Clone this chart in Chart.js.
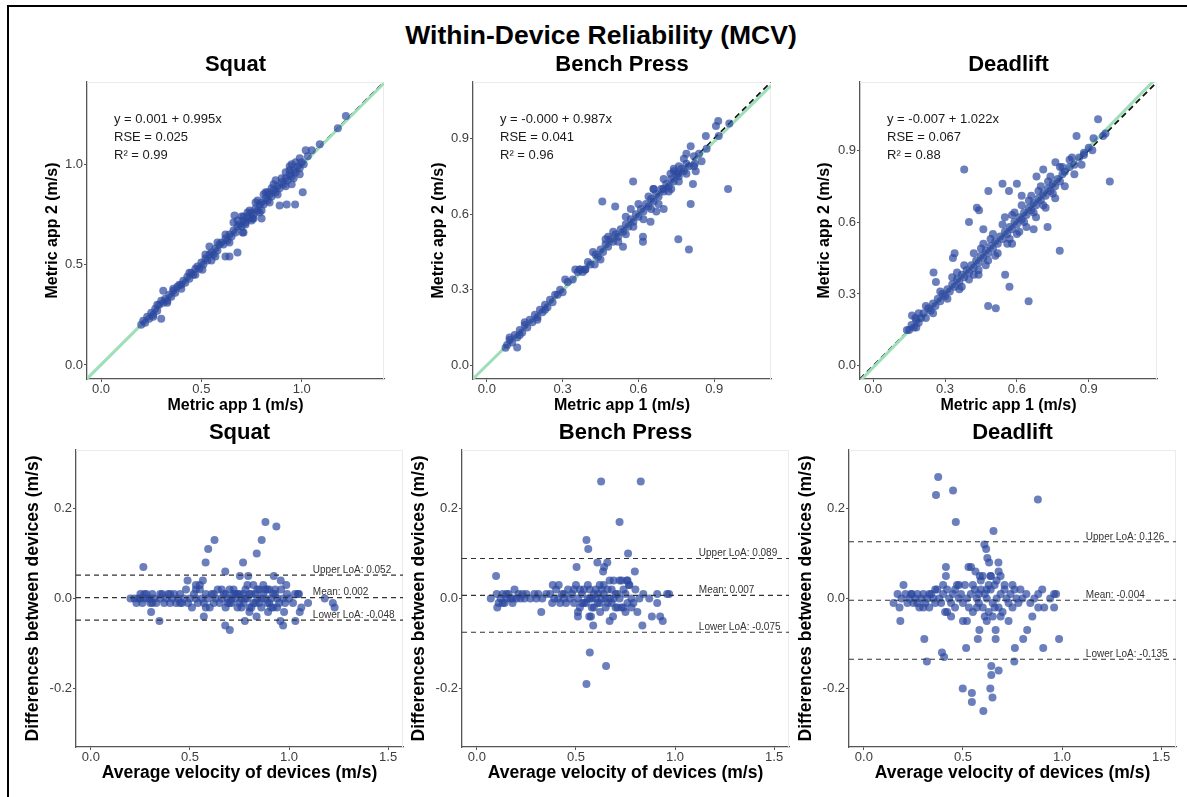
<!DOCTYPE html>
<html>
<head>
<meta charset="utf-8">
<title>Within-Device Reliability (MCV)</title>
<script src="https://cdn.jsdelivr.net/npm/chart.js@4.4.0/dist/chart.umd.min.js"></script>
<style>
  body { margin: 0; background: #fff; width: 1187px; height: 797px; overflow: hidden; position: relative;
         font-family: "Liberation Sans", Arial, Helvetica, sans-serif; }
  #frame { position: absolute; left: 7px; top: 5px; width: 1200px; height: 800px;
           border-left: 2px solid #000; border-top: 2px solid #000; }
  #mainTitle { position: absolute; left: 0; top: 20px; width: 1202px; text-align: center;
               font-size: 26.5px; line-height: 30px; font-weight: bold; color: #000; }
  canvas { position: absolute; }
</style>
</head>
<body>
<div id="frame"></div>
<div id="mainTitle">Within-Device Reliability (MCV)</div>

<script>
const FONT = '"Liberation Sans", Arial, Helvetica, sans-serif'
Chart.defaults.font.family = FONT
Chart.defaults.animation = false

// Metric app 1 vs Metric app 2 (m/s): [app1, app2]
const squatApps = [
  [0.20,0.20],[0.21,0.22],[0.22,0.21],[0.23,0.24],[0.24,0.23],[0.25,0.26],[0.26,0.25],[0.27,0.28],[0.28,0.27],[0.29,0.30],
  [0.30,0.32],[0.31,0.31],[0.32,0.33],[0.33,0.32],[0.34,0.35],[0.35,0.34],[0.36,0.37],[0.37,0.36],[0.38,0.39],[0.39,0.40],
  [0.40,0.40],[0.41,0.42],[0.42,0.41],[0.43,0.44],[0.44,0.43],[0.45,0.46],[0.46,0.45],[0.47,0.48],[0.48,0.49],[0.49,0.48],
  [0.50,0.51],[0.51,0.50],[0.52,0.53],[0.53,0.52],[0.54,0.55],[0.55,0.56],[0.56,0.55],[0.57,0.58],[0.58,0.57],[0.59,0.60],
  [0.60,0.61],[0.61,0.60],[0.62,0.63],[0.63,0.62],[0.64,0.65],[0.65,0.64],[0.66,0.67],[0.67,0.66],[0.68,0.69],[0.69,0.70],
  [0.70,0.69],[0.71,0.72],[0.72,0.71],[0.73,0.74],[0.74,0.73],[0.75,0.76],[0.76,0.75],[0.77,0.78],[0.78,0.77],[0.79,0.80],
  [0.80,0.81],[0.81,0.80],[0.82,0.83],[0.83,0.82],[0.84,0.85],[0.85,0.84],[0.86,0.87],[0.87,0.86],[0.88,0.89],[0.89,0.88],
  [0.90,0.91],[0.91,0.90],[0.92,0.93],[0.93,0.92],[0.94,0.95],[0.95,0.94],[0.96,0.97],[0.97,0.96],[0.98,0.99],[0.99,0.98],
  [1.00,1.01],[1.01,1.00],[1.03,1.04],
  [0.62,0.65],[0.66,0.71],[0.68,0.72],[0.70,0.74],[0.72,0.70],[0.74,0.77],[0.76,0.73],[0.78,0.82],[0.80,0.77],[0.82,0.86],
  [0.84,0.81],[0.86,0.90],[0.88,0.85],[0.90,0.93],[0.92,0.89],[0.94,0.97],[0.96,0.93],[0.85,0.88],[0.79,0.76],[0.73,0.76],
  [0.64,0.61],[0.58,0.61],[0.55,0.52],[0.52,0.55],[0.47,0.45],[0.44,0.46],[0.40,0.38],[0.36,0.38],[0.33,0.31],[0.28,0.30],
  [0.26,0.24],[0.95,1.00],[0.97,1.01],[0.99,1.03],[0.92,0.96],[0.87,0.92],[0.83,0.86],[0.81,0.85],[0.77,0.81],[0.75,0.72],
  [0.71,0.74],
  [1.22,1.24],[1.18,1.18],[1.09,1.10],[1.05,1.07],[1.02,1.07],[1.005,0.86],[0.925,0.80],[0.967,0.80],[0.89,0.795],[0.68,0.56],
  [0.64,0.54],[0.62,0.54],[0.30,0.23],[0.31,0.37],[0.665,0.745],[0.705,0.66],[0.755,0.73],[0.80,0.73],[0.54,0.59],[0.505,0.475],
  [0.94,0.99],[0.99,0.95],[0.95,0.90],[0.57,0.54],[0.71,0.66]
]
const benchApps = [
  [0.08,0.08],[0.09,0.10],[0.10,0.09],[0.11,0.12],[0.12,0.11],[0.13,0.14],[0.14,0.13],[0.15,0.16],[0.16,0.15],[0.17,0.18],
  [0.18,0.17],[0.19,0.20],[0.20,0.19],[0.21,0.22],[0.22,0.21],[0.23,0.24],[0.24,0.23],[0.25,0.26],[0.26,0.25],[0.27,0.28],
  [0.28,0.28],[0.29,0.30],[0.30,0.29],[0.32,0.33],[0.34,0.34],[0.36,0.37],[0.38,0.37],[0.40,0.41],[0.41,0.40],[0.43,0.44],
  [0.44,0.43],[0.45,0.46],[0.46,0.45],[0.47,0.48],[0.48,0.47],[0.49,0.50],[0.50,0.49],[0.51,0.52],[0.52,0.51],[0.53,0.54],
  [0.54,0.53],[0.55,0.56],[0.56,0.55],[0.57,0.58],[0.58,0.57],[0.59,0.60],[0.60,0.59],[0.61,0.62],[0.62,0.61],[0.63,0.64],
  [0.64,0.63],[0.65,0.66],[0.66,0.65],[0.67,0.68],[0.68,0.67],[0.69,0.70],[0.70,0.69],[0.71,0.72],[0.72,0.71],[0.73,0.74],
  [0.74,0.73],[0.75,0.76],[0.76,0.75],[0.77,0.78],[0.78,0.77],[0.79,0.80],[0.80,0.79],[0.82,0.83],[0.84,0.84],
  [0.48,0.51],[0.50,0.53],[0.52,0.49],[0.55,0.59],[0.57,0.62],[0.58,0.55],[0.60,0.64],[0.62,0.58],[0.64,0.67],[0.66,0.70],
  [0.68,0.64],[0.70,0.74],[0.72,0.69],[0.74,0.77],[0.76,0.73],[0.78,0.82],[0.74,0.78],[0.76,0.79],[0.79,0.76],[0.73,0.70],
  [0.65,0.62],[0.55,0.52],[0.47,0.50],[0.45,0.42],[0.42,0.45],[0.20,0.18],[0.15,0.17],[0.13,0.12],[0.23,0.22],[0.35,0.38],
  [0.37,0.38],[0.39,0.38],
  [0.074,0.069],[0.09,0.11],[0.12,0.07],[0.31,0.34],[0.367,0.38],[0.389,0.38],[0.427,0.40],[0.457,0.65],[0.508,0.63],[0.579,0.73],
  [0.539,0.47],[0.618,0.49],[0.618,0.51],[0.648,0.57],[0.70,0.62],[0.758,0.50],[0.80,0.46],[0.807,0.64],[0.816,0.72],[0.807,0.87],
  [0.867,0.91],[0.916,0.97],[0.907,0.95],[0.955,0.70],[0.918,0.91],[0.827,0.77],[0.823,0.80],[0.79,0.84],[0.727,0.76],[0.757,0.76],
  [0.698,0.70],[0.66,0.70],[0.671,0.61],[0.96,0.96],[0.87,0.86],[0.85,0.81],[0.82,0.79]
]
const deadliftApps = [
  [0.15,0.15],[0.16,0.17],[0.17,0.16],[0.18,0.19],[0.19,0.18],[0.20,0.20],[0.21,0.22],[0.22,0.20],[0.23,0.24],[0.24,0.23],
  [0.25,0.26],[0.26,0.25],[0.27,0.28],[0.28,0.27],[0.29,0.30],[0.30,0.29],[0.31,0.32],[0.32,0.31],[0.33,0.34],[0.34,0.33],
  [0.35,0.36],[0.36,0.35],[0.37,0.38],[0.38,0.37],[0.39,0.40],[0.40,0.39],[0.41,0.42],[0.42,0.41],[0.43,0.44],[0.44,0.43],
  [0.45,0.46],[0.46,0.45],[0.47,0.48],[0.48,0.47],[0.49,0.50],[0.50,0.49],[0.51,0.52],[0.52,0.51],[0.53,0.54],[0.54,0.53],
  [0.55,0.56],[0.56,0.55],[0.57,0.58],[0.58,0.57],[0.59,0.60],[0.60,0.59],[0.61,0.62],[0.62,0.61],[0.63,0.64],[0.64,0.63],
  [0.65,0.66],[0.66,0.65],[0.67,0.68],[0.68,0.67],[0.69,0.70],[0.70,0.69],[0.71,0.72],[0.72,0.71],[0.73,0.74],[0.74,0.73],
  [0.75,0.76],[0.76,0.75],[0.77,0.78],[0.78,0.77],[0.79,0.80],[0.80,0.81],[0.82,0.83],[0.84,0.84],[0.86,0.87],[0.88,0.88],
  [0.90,0.91],
  [0.25,0.22],[0.28,0.31],[0.31,0.28],[0.33,0.37],[0.36,0.32],[0.38,0.42],[0.40,0.36],[0.42,0.47],[0.44,0.40],[0.46,0.51],
  [0.48,0.44],[0.50,0.55],[0.52,0.47],[0.54,0.59],[0.56,0.51],[0.58,0.63],[0.60,0.55],[0.62,0.67],[0.64,0.58],[0.66,0.71],
  [0.68,0.62],[0.70,0.75],[0.72,0.66],[0.74,0.79],[0.76,0.70],[0.78,0.83],[0.80,0.75],[0.82,0.86],[0.84,0.80],[0.63,0.60],
  [0.65,0.69],[0.67,0.64],[0.69,0.73],[0.71,0.67],[0.73,0.77],[0.75,0.72],[0.55,0.62],[0.57,0.53],[0.59,0.64],[0.61,0.56],
  [0.45,0.49],[0.47,0.42],[0.49,0.53],[0.51,0.46],[0.35,0.39],[0.37,0.33],[0.22,0.25],[0.19,0.22],[0.18,0.16],
  [0.939,1.03],[0.849,0.96],[0.988,0.77],[0.38,0.82],[0.481,0.73],[0.54,0.76],[0.567,0.73],[0.60,0.76],[0.62,0.71],[0.433,0.66],
  [0.442,0.65],[0.40,0.60],[0.46,0.57],[0.34,0.47],[0.333,0.45],[0.252,0.39],[0.262,0.35],[0.551,0.38],[0.569,0.33],[0.48,0.25],
  [0.512,0.24],[0.649,0.27],[0.779,0.48],[0.728,0.58],[0.682,0.79],[0.71,0.82],[0.761,0.85],[0.79,0.83],[0.88,0.89],[0.915,0.90],
  [0.96,0.96],[0.162,0.21],[0.176,0.20],[0.141,0.15],[0.97,0.97],[0.92,0.95],[0.87,0.84],[0.83,0.87],[0.58,0.51],[0.67,0.57],
  [0.42,0.38],[0.44,0.38]
]

// Bland-Altman: [average velocity, difference] (m/s)
const squatDiffs = [
  [0.20,0.00],[0.22,0.00],[0.23,-0.01],[0.24,0.00],[0.25,0.01],[0.26,-0.01],[0.27,0.00],[0.28,0.01],[0.29,0.00],[0.30,-0.01],
  [0.31,0.01],[0.32,0.00],[0.33,-0.01],[0.35,0.00],[0.36,0.01],[0.37,-0.01],[0.38,0.00],[0.39,0.01],[0.40,-0.01],[0.41,0.00],
  [0.42,0.01],[0.43,-0.01],[0.44,0.00],[0.45,0.01],[0.46,-0.01],[0.47,0.00],[0.48,0.02],[0.49,-0.01],[0.50,0.00],[0.51,-0.02],
  [0.52,0.01],[0.53,0.00],[0.54,-0.01],[0.55,0.02],[0.56,0.00],[0.57,-0.01],[0.58,0.01],[0.59,0.00],[0.60,-0.02],[0.61,0.01],
  [0.62,-0.01],[0.63,0.00],[0.64,0.02],[0.65,-0.01],[0.66,0.00],[0.67,0.01],[0.68,-0.02],[0.69,0.00],[0.70,0.02],[0.71,-0.01],
  [0.72,0.01],[0.73,0.00],[0.74,-0.02],[0.75,0.01],[0.76,0.00],[0.77,-0.01],[0.78,0.02],[0.79,0.00],[0.80,-0.02],[0.81,0.01],
  [0.82,0.03],[0.83,-0.01],[0.84,0.00],[0.85,0.02],[0.86,-0.02],[0.87,0.01],[0.88,0.00],[0.89,-0.01],[0.90,0.02],[0.91,0.00],
  [0.92,-0.02],[0.93,0.01],[0.94,0.00],[0.95,-0.01],[0.96,0.02],[0.97,0.00],[0.98,-0.01],[0.99,0.01],[1.00,0.00],[1.02,-0.01],
  [1.03,0.01],[1.05,0.01],
  [0.66,0.02],[0.68,0.01],[0.70,-0.01],[0.72,0.02],[0.74,0.01],[0.76,-0.02],[0.78,0.00],[0.80,0.01],[0.82,-0.01],[0.84,0.02],
  [0.86,0.00],[0.88,0.02],[0.90,-0.01],[0.92,0.01],[0.94,-0.02],[0.87,0.03],[0.89,0.02],[0.85,-0.01],[0.79,0.03],[0.81,-0.02],
  [0.73,0.01],[0.69,-0.01],[0.71,0.00],[0.75,-0.01],[0.77,0.01],[0.83,0.01],[0.91,-0.02],[0.93,0.02],[0.62,0.01],[0.58,-0.02],
  [0.55,0.03],[0.53,0.02],[0.45,-0.01],[0.40,0.01],[0.35,0.01],[0.30,0.00],[0.31,-0.01],[0.25,0.00],[0.27,0.01],
  [0.265,0.07],[0.881,0.17],[0.936,0.16],[0.624,0.13],[0.592,0.11],[0.862,0.13],[0.837,0.10],[0.579,0.08],[0.768,0.08],[0.678,0.06],
  [0.752,0.05],[0.794,0.05],[0.923,0.05],[0.488,0.04],[0.53,0.03],[0.565,0.04],[0.958,0.04],[0.986,0.03],[0.304,-0.03],[0.346,-0.05],
  [0.570,-0.04],[0.678,-0.06],[0.701,-0.07],[0.777,-0.05],[0.80,-0.03],[0.836,-0.04],[0.894,-0.03],[0.956,-0.05],[0.97,-0.06],[0.975,-0.03],
  [1.032,-0.05],[1.054,-0.03],[1.062,-0.02],[1.096,-0.01],[1.18,0.00],[1.221,-0.01],[1.23,-0.02],[1.045,0.01]
]
const benchDiffs = [
  [0.07,0.00],[0.10,0.01],[0.11,-0.01],[0.12,0.00],[0.13,0.01],[0.14,-0.01],[0.15,0.00],[0.16,0.01],[0.17,0.00],[0.18,-0.01],
  [0.19,0.02],[0.20,0.00],[0.21,0.01],[0.22,0.00],[0.23,0.01],[0.24,0.00],[0.25,0.01],[0.27,0.00],[0.29,0.01],[0.30,0.00],
  [0.31,0.01],[0.33,0.00],[0.37,0.01],[0.38,-0.01],[0.39,0.00],[0.40,0.02],[0.41,0.00],[0.42,-0.01],[0.43,0.01],[0.44,0.00],
  [0.45,-0.01],[0.46,0.02],[0.47,0.00],[0.48,0.01],[0.49,-0.01],[0.50,0.03],[0.51,0.00],[0.52,-0.02],[0.53,0.01],[0.54,0.02],
  [0.55,-0.01],[0.56,0.00],[0.57,0.02],[0.58,-0.02],[0.59,0.01],[0.60,0.00],[0.61,-0.01],[0.62,0.03],[0.63,0.00],[0.64,0.01],
  [0.65,-0.02],[0.66,0.02],[0.67,0.00],[0.68,-0.01],[0.69,0.04],[0.70,0.01],[0.71,-0.02],[0.72,0.00],[0.73,0.04],[0.74,-0.02],
  [0.75,0.01],[0.76,-0.01],[0.77,0.03],[0.78,0.00],[0.79,-0.01],[0.80,0.02],[0.82,0.00],[0.84,0.01],[0.87,0.00],[0.91,0.01],
  [0.97,0.01],
  [0.52,0.02],[0.54,-0.01],[0.56,0.03],[0.58,0.00],[0.60,0.02],[0.62,-0.01],[0.64,0.03],[0.66,-0.01],[0.68,0.02],[0.70,-0.02],
  [0.72,0.04],[0.74,0.02],[0.76,0.04],[0.78,-0.02],[0.75,-0.03],[0.73,-0.02],[0.67,0.04],[0.61,0.01],[0.57,0.00],[0.53,-0.01],
  [0.49,0.02],[0.15,0.01],[0.13,-0.01],[0.18,0.00],[0.35,0.01],[0.44,0.01],[0.59,-0.02],[0.63,0.02],[0.65,0.00],[0.69,0.00],
  [0.71,0.01],
  [0.627,0.26],[0.827,0.26],[0.72,0.17],[0.553,0.13],[0.562,0.11],[0.763,0.10],[0.608,0.08],[0.642,0.07],[0.658,0.08],[0.637,0.06],
  [0.503,0.07],[0.797,0.06],[0.097,0.05],[0.57,-0.12],[0.652,-0.15],[0.553,-0.19],[0.587,-0.06],[0.835,-0.06],[0.938,-0.05],[0.925,-0.04],
  [0.883,-0.04],[0.67,-0.05],[0.687,-0.04],[0.325,-0.03],[0.103,-0.02],[0.51,-0.03],[0.51,-0.04],[0.567,-0.04],[0.576,-0.04],[0.622,-0.03],
  [0.81,-0.03],[0.91,-0.01],[0.96,0.01],[0.383,0.03],[0.413,0.03],[0.757,0.04],[0.767,0.03]
]
const deadliftDiffs = [
  [0.15,-0.01],[0.17,0.01],[0.18,-0.02],[0.19,0.00],[0.20,0.03],[0.21,0.01],[0.22,-0.01],[0.23,0.00],[0.24,0.01],[0.25,-0.01],
  [0.26,0.00],[0.27,0.01],[0.28,-0.02],[0.29,0.00],[0.30,0.01],[0.31,-0.01],[0.32,0.00],[0.33,-0.02],[0.34,0.01],[0.35,0.00],
  [0.36,-0.01],[0.37,0.02],[0.38,0.00],[0.39,-0.01],[0.40,0.01],[0.41,-0.03],[0.42,0.02],[0.43,0.00],[0.44,-0.01],[0.45,0.01],
  [0.46,-0.02],[0.47,0.03],[0.48,0.00],[0.49,0.01],[0.50,-0.01],[0.51,0.03],[0.52,0.00],[0.53,-0.02],[0.54,0.01],[0.55,-0.03],
  [0.56,0.02],[0.57,0.00],[0.58,-0.01],[0.59,0.02],[0.60,-0.02],[0.61,0.01],[0.62,0.00],[0.63,-0.03],[0.64,0.02],[0.65,-0.01],
  [0.66,0.03],[0.67,0.00],[0.68,-0.02],[0.69,0.01],[0.70,-0.03],[0.71,0.02],[0.72,0.00],[0.73,-0.01],[0.74,0.01],[0.75,-0.02],
  [0.76,0.02],[0.77,0.00],[0.78,-0.01],[0.79,0.02],[0.80,0.00],[0.82,0.01],[0.84,-0.01],[0.86,0.00],[0.88,0.01],[0.90,0.02],
  [0.94,0.00],[0.96,0.01],[0.97,0.01],
  [0.55,0.03],[0.57,-0.02],[0.59,0.04],[0.61,-0.04],[0.63,0.03],[0.65,-0.04],[0.67,0.04],[0.69,-0.04],[0.71,0.03],[0.73,-0.05],
  [0.75,0.03],[0.66,-0.02],[0.62,0.02],[0.58,0.01],[0.52,-0.05],[0.50,-0.05],[0.48,0.03],[0.46,0.02],[0.44,-0.04],[0.42,-0.03],
  [0.40,0.03],[0.36,0.02],[0.33,0.01],[0.30,-0.02],[0.27,-0.01],[0.24,0.01],[0.69,0.05],[0.64,0.05],[0.60,0.05],[0.62,-0.05],
  [0.68,0.06],[0.85,-0.04],[0.88,-0.02],[0.91,-0.02],
  [0.375,0.27],[0.364,0.23],[0.45,0.24],[0.878,0.22],[0.464,0.17],[0.654,0.15],[0.608,0.12],[0.617,0.11],[0.623,0.09],[0.632,0.08],
  [0.679,0.08],[0.414,0.07],[0.528,0.07],[0.541,0.07],[0.414,0.05],[0.563,0.06],[0.585,0.05],[0.64,0.05],[0.184,-0.05],[0.305,-0.09],
  [0.318,-0.14],[0.394,-0.12],[0.405,-0.13],[0.516,-0.11],[0.575,-0.09],[0.583,-0.07],[0.665,-0.09],[0.665,-0.07],[0.762,-0.11],[0.759,-0.14],
  [0.804,-0.09],[0.824,-0.07],[0.905,-0.11],[0.985,-0.09],[0.643,-0.15],[0.643,-0.17],[0.68,-0.16],[0.499,-0.20],[0.545,-0.21],[0.545,-0.23],
  [0.638,-0.20],[0.649,-0.22],[0.603,-0.25],[0.96,-0.02]
]

const exercises = ['Squat', 'Bench Press', 'Deadlift']
const fitIntercepts = [0.001, -0.000, -0.007]
const fitSlopes = [0.995, 0.987, 1.022]
const fitEquations = ['y = 0.001 + 0.995x', 'y = -0.000 + 0.987x', 'y = -0.007 + 1.022x']
const fitRSE = ['0.025', '0.041', '0.067']
const fitR2 = ['0.99', '0.96', '0.88']
const upperLoA = [0.052, 0.089, 0.126]
const meanDiff = [0.002, 0.007, -0.004]
const lowerLoA = [-0.048, -0.075, -0.135]

const fitRanges = [[-0.07, 1.41], [-0.055, 1.125], [-0.055, 1.185]]
const fitTicks = [[0, 0.5, 1.0], [0, 0.3, 0.6, 0.9], [0, 0.3, 0.6, 0.9]]
const baRangeX = [-0.075, 1.575]
const baRangeY = [-0.33, 0.33]
const baTicksX = [0, 0.5, 1.0, 1.5]
const baTicksY = [-0.2, 0, 0.2]

// Layout: plot area boxes in page pixels
const POINT = 'rgba(44, 72, 160, 0.7)'
const topAreas = [{ l: 87, r: 384 }, { l: 473, r: 771 }, { l: 860, r: 1157 }]
const botAreas = [{ l: 76, r: 403 }, { l: 462, r: 789 }, { l: 849, r: 1176 }]
const topYW = [44, 44, 45]
const RIGHT_PAD = 8

function axis(range, ticks, title, titleSize, fixed, isX) {
  return {
    type: 'linear',
    position: isX ? 'bottom' : 'left',
    bounds: 'data',
    min: range[0],
    max: range[1],
    border: { display: true, color: '#555', width: 1.3 },
    grid: { display: true, drawOnChartArea: false, drawTicks: true, tickLength: 3, tickColor: '#555', tickWidth: 1 },
    ticks: { color: '#3d3d3d', font: { size: 13 }, padding: isX ? 0 : 1, callback: (v) => Number(v).toFixed(1) },
    afterBuildTicks: (s) => { s.ticks = ticks.map((v) => ({ value: v })) },
    afterFit: (s) => { if (isX) s.height = fixed; else s.width = fixed },
    title: { display: true, text: title, color: '#000', font: { size: titleSize, weight: 'bold' }, padding: 0 },
  }
}

function decor(kind, i) {
  return {
    id: 'decor' + kind + i,
    beforeDatasetsDraw(chart) {
      const { ctx, chartArea: a } = chart
      ctx.save()
      ctx.strokeStyle = '#ebebeb'
      ctx.lineWidth = 1
      ctx.beginPath()
      ctx.moveTo(a.left, a.top + 0.5)
      ctx.lineTo(a.right - 0.5, a.top + 0.5)
      ctx.lineTo(a.right - 0.5, a.bottom)
      ctx.stroke()
      ctx.restore()
    },
    afterDatasetsDraw(chart) {
      const { ctx, chartArea: a, scales } = chart
      ctx.save()
      ctx.textAlign = 'left'
      ctx.textBaseline = 'middle'
      if (kind === 'fit') {
        ctx.font = '13px ' + FONT
        ctx.fillStyle = '#1a1a1a'
        const lines = [fitEquations[i], 'RSE = ' + fitRSE[i], 'R\u00b2 = ' + fitR2[i]]
        lines.forEach((t, k) => ctx.fillText(t, a.left + 27, a.top + 37 + 18 * k))
      } else {
        ctx.font = '10px ' + FONT
        ctx.fillStyle = '#333'
        const x = scales.x.getPixelForValue(1.12)
        const labels = [['Upper LoA: ', upperLoA[i]], ['Mean: ', meanDiff[i]], ['Lower LoA: ', lowerLoA[i]]]
        labels.forEach(([lab, v]) => ctx.fillText(lab + v.toFixed(3), x, scales.y.getPixelForValue(v) - 5))
      }
      ctx.restore()
    },
  }
}

function makeCanvas(left, top, width, height) {
  const c = document.createElement('canvas')
  c.width = width
  c.height = height
  c.style.left = left + 'px'
  c.style.top = top + 'px'
  c.style.width = width + 'px'
  c.style.height = height + 'px'
  document.body.appendChild(c)
  return c.getContext('2d')
}

function baseOptions(i, titleTop, areaTop, scales) {
  const lh = 22 * 1.2
  return {
    responsive: false,
    animation: false,
    events: [],
    layout: { padding: { left: 0, top: 0, right: RIGHT_PAD, bottom: 0 } },
    plugins: {
      legend: { display: false },
      tooltip: { enabled: false },
      title: {
        display: true, text: exercises[i], fullSize: false, color: '#000',
        font: { size: 22, weight: 'bold' }, padding: { top: 0, bottom: areaTop - titleTop - lh },
      },
    },
    scales,
  }
}

const pointStyle = { pointRadius: 4, pointBackgroundColor: POINT, pointBorderWidth: 0, showLine: false }

// Top row: app 1 vs app 2
const fitData = [squatApps, benchApps, deadliftApps]
fitData.forEach((pts, i) => {
  const area = topAreas[i]
  const yW = topYW[i]
  const titleTop = 52, areaTop = 82, areaBottom = 379, xH = 36
  const ctx = makeCanvas(area.l - yW, titleTop, yW + (area.r - area.l) + RIGHT_PAD, areaBottom + xH - titleTop)
  const [x0, x1] = fitRanges[i]
  new Chart(ctx, {
    type: 'scatter',
    data: {
      datasets: [
        { data: pts.map(([x, y]) => ({ x, y })), ...pointStyle, order: 0 },
        {
          data: [{ x: x0, y: fitIntercepts[i] + fitSlopes[i] * x0 }, { x: x1, y: fitIntercepts[i] + fitSlopes[i] * x1 }],
          showLine: true, pointRadius: 0, borderColor: '#9edfb8', borderWidth: 3, order: 1,
        },
        {
          data: [{ x: x0, y: x0 }, { x: x1, y: x1 }],
          showLine: true, pointRadius: 0, borderColor: '#111', borderWidth: 1.8, borderDash: [6, 4], order: 2,
        },
      ],
    },
    options: baseOptions(i, titleTop, areaTop, {
      x: axis(fitRanges[i], fitTicks[i], 'Metric app 1 (m/s)', 16, xH, true),
      y: axis(fitRanges[i], fitTicks[i], 'Metric app 2 (m/s)', 16, yW, false),
    }),
    plugins: [decor('fit', i)],
  })
})

// Bottom row: Bland-Altman
const diffData = [squatDiffs, benchDiffs, deadliftDiffs]
diffData.forEach((pts, i) => {
  const area = botAreas[i]
  const yW = 53
  const titleTop = 420, areaTop = 450, areaBottom = 747, xH = 37
  const ctx = makeCanvas(area.l - yW, titleTop, yW + (area.r - area.l) + RIGHT_PAD, areaBottom + xH - titleTop)
  const loaLine = (v) => ({
    data: [{ x: baRangeX[0], y: v }, { x: baRangeX[1], y: v }],
    showLine: true, pointRadius: 0, borderColor: '#333', borderWidth: 1.1, borderDash: [5, 4], order: 0,
  })
  new Chart(ctx, {
    type: 'scatter',
    data: {
      datasets: [
        loaLine(upperLoA[i]),
        loaLine(meanDiff[i]),
        loaLine(lowerLoA[i]),
        { data: pts.map(([x, y]) => ({ x, y })), ...pointStyle, order: 1 },
      ],
    },
    options: baseOptions(i, titleTop, areaTop, {
      x: axis(baRangeX, baTicksX, 'Average velocity of devices (m/s)', 17.5, xH, true),
      y: axis(baRangeY, baTicksY, 'Differences between devices (m/s)', 17.5, yW, false),
    }),
    plugins: [decor('ba', i)],
  })
})
</script>
</body>
</html>
